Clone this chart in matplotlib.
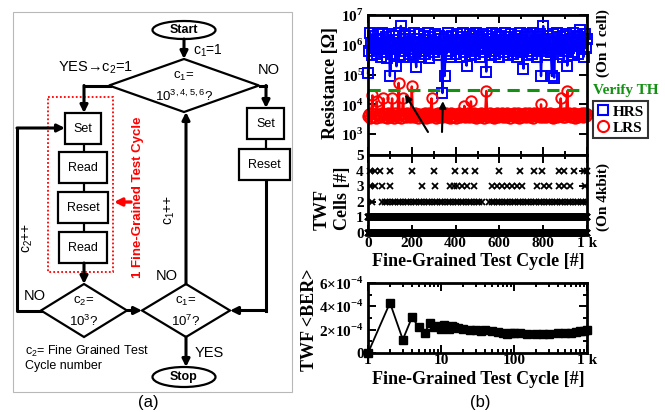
import numpy as np
import matplotlib
matplotlib.use("Agg")
import matplotlib.pyplot as plt
from matplotlib.patches import Rectangle, Ellipse, Polygon
from matplotlib.lines import Line2D
from matplotlib.ticker import MultipleLocator, LogLocator, NullFormatter

plt.rcParams['font.family'] = ['Liberation Serif', 'DejaVu Serif']
plt.rcParams['font.weight'] = 'bold'
plt.rcParams['mathtext.fontset'] = 'custom'
plt.rcParams['mathtext.rm'] = 'Liberation Serif:bold'
plt.rcParams['mathtext.bf'] = 'Liberation Serif:bold'
plt.rcParams['mathtext.sf'] = 'Liberation Sans:weight=normal'

# ---- data ----
# sampled fine-grained cycles for the single-cell resistance trace
res_cycles = np.arange(0, 1001, 5)
hrs_log = [5.05, 5.80, 6.40, 6.05, 5.65, 6.30, 5.90, 6.15, 5.70, 6.35,
           5.85, 6.20, 5.60, 6.40, 5.95, 5.75, 6.25, 5.55, 6.10, 6.35,
           4.95, 6.00, 5.70, 6.30, 5.85, 6.15, 5.28, 5.90, 6.40, 5.65,
           6.63, 5.80, 6.20, 5.60, 6.35, 5.95, 6.05, 5.70, 6.30, 5.85,
           6.10, 5.65, 6.40, 5.75, 5.25, 6.20, 5.90, 6.35, 5.60, 6.05,
           5.80, 6.30, 5.70, 6.15, 5.95, 6.40, 5.55, 6.25, 5.85, 6.10,
           5.75, 6.35, 5.90, 6.00, 5.65, 6.30, 5.85, 6.20, 4.38, 5.95,
           4.95, 6.25, 5.70, 6.40, 5.80, 6.10, 5.60, 6.30, 5.95, 6.15,
           5.70, 6.35, 5.85, 6.05, 5.60, 6.25, 5.90, 6.40, 5.75, 6.15,
           5.30, 6.20, 5.95, 6.35, 5.65, 6.10, 5.80, 6.30, 5.70, 6.40,
           5.85, 6.25, 5.60, 6.15, 5.95, 6.35, 5.75, 6.05, 5.10, 6.30,
           5.90, 6.20, 5.65, 6.40, 5.80, 6.10, 5.70, 6.35, 5.95, 6.25,
           5.60, 6.30, 5.85, 6.15, 5.75, 6.40, 5.90, 6.05, 5.65, 6.25,
           5.95, 6.35, 5.70, 6.20, 5.80, 6.10, 5.60, 6.30, 5.85, 6.40,
           5.75, 6.15, 5.20, 6.25, 5.90, 6.35, 5.65, 6.05, 5.80, 6.30,
           5.70, 6.40, 5.95, 6.10, 5.60, 6.25, 5.85, 6.35, 4.95, 6.15,
           6.63, 5.80, 6.20, 5.65, 6.30, 5.90, 6.05, 5.75, 4.95, 6.35,
           4.90, 6.10, 5.85, 6.40, 5.70, 6.25, 5.95, 6.15, 5.60, 6.30,
           5.80, 6.35, 5.30, 6.05, 5.90, 6.20, 5.65, 6.40, 5.75, 6.10,
           5.95, 6.30, 5.70, 6.25, 6.50, 5.85, 6.15, 5.60, 6.35, 5.90,
           6.20]
lrs_log = [3.60, 3.66, 3.55, 3.70, 4.30, 3.58, 3.68, 3.54, 4.10, 3.63,
           3.69, 3.56, 3.64, 3.71, 4.20, 3.59, 3.66, 3.53, 3.70, 3.61,
           3.57, 3.68, 4.20, 3.62, 3.55, 3.71, 3.64, 3.58, 4.72, 3.67,
           3.54, 3.69, 4.20, 3.60, 3.66, 3.56, 3.72, 3.62, 3.58, 3.68,
           4.60, 3.63, 3.57, 3.70, 3.60, 3.66, 3.53, 3.69, 3.61, 3.56,
           3.68, 3.59, 3.71, 3.55, 3.65, 3.62, 3.70, 3.57, 4.20, 3.64,
           3.60, 3.69, 3.54, 3.67, 3.72, 3.58, 3.63, 3.70, 3.56, 3.66,
           3.61, 3.71, 3.57, 3.64, 3.68, 3.55, 3.70, 3.62, 3.59, 3.67,
           3.53, 3.68, 3.63, 3.71, 3.58, 3.66, 3.60, 3.69, 3.95, 3.57,
           3.65, 3.70, 3.56, 3.62, 4.10, 3.67, 3.59, 3.72, 3.61, 3.55,
           3.69, 3.63, 3.58, 3.70, 3.60, 3.66, 3.54, 3.68, 4.45, 3.62,
           3.57, 3.71, 3.64, 3.59, 3.69, 3.55, 3.67, 3.62, 3.70, 3.58,
           3.66, 3.60, 3.72, 3.56, 3.64, 3.69, 3.58, 3.71, 3.61, 3.65,
           3.54, 3.68, 3.62, 3.70, 3.57, 3.66, 3.60, 3.72, 3.55, 3.64,
           3.69, 3.59, 3.65, 3.71, 3.56, 3.67, 3.61, 3.70, 3.58, 3.63,
           3.68, 3.55, 3.72, 3.60, 3.66, 3.62, 3.69, 3.57, 4.00, 3.64,
           3.59, 3.70, 3.63, 3.56, 3.68, 3.61, 3.71, 3.58, 3.66, 3.54,
           3.69, 3.62, 3.67, 3.57, 3.72, 3.60, 4.20, 3.65, 3.59, 3.70,
           3.56, 3.68, 4.45, 3.63, 3.70, 3.58, 3.66, 3.61, 3.71, 3.55,
           3.64, 3.69, 3.59, 3.67, 3.62, 3.72, 3.57, 3.65, 3.70, 3.60,
           3.66]
verify_th = 3e4

# TWF cell counts on the 4 kbit array
all_cycles = np.arange(1, 1001)
twf4_cycles = [11, 33, 56, 102, 201, 300, 399, 444, 490, 597, 696, 756,
               795, 871, 893, 939, 985, 1000]
twf3_cycles = [11, 33, 64, 102, 247, 307, 376, 391, 406, 429, 452, 482,
               566, 589, 612, 635, 658, 680, 703, 772, 802, 825, 871,
               893, 924, 992]
twf2_cycles = [18, 64, 76, 88, 100, 112, 124, 136, 148, 160, 172, 184,
               196, 208, 220, 232, 244, 256, 268, 280, 292, 304, 316,
               328, 340, 352, 364, 376, 388, 400, 412, 424, 436, 448,
               460, 472, 484, 496, 508, 520, 552, 564, 576, 588, 600,
               612, 624, 636, 648, 660, 672, 684, 696, 708, 720, 732,
               744, 756, 768, 780, 792, 804, 816, 828, 840, 852, 864,
               876, 888, 900, 912, 924, 936, 948, 960, 972, 984, 996]

# averaged bit error rate of TWF
ber_cycles = [1, 2, 3, 4, 5, 6, 7, 8, 9, 10, 11, 12, 13, 14, 15, 17, 20,
              25, 30, 35, 40, 50, 60, 70, 80, 90, 100, 120, 150, 200,
              250, 300, 400, 500, 600, 700, 800, 900, 1000]
ber = [0.0, 4.3e-4, 1.15e-4, 3.05e-4, 2.2e-4, 1.75e-4, 2.55e-4, 2.2e-4,
       2.3e-4, 2.1e-4, 2.4e-4, 2.2e-4, 2.1e-4, 2.3e-4, 2.2e-4, 2.15e-4,
       2.1e-4, 2.0e-4, 1.95e-4, 1.9e-4, 1.95e-4, 1.85e-4, 1.8e-4,
       1.75e-4, 1.65e-4, 1.7e-4, 1.7e-4, 1.68e-4, 1.65e-4, 1.65e-4,
       1.62e-4, 1.62e-4, 1.68e-4, 1.72e-4, 1.75e-4, 1.8e-4, 1.85e-4,
       1.9e-4, 1.95e-4]

W, H = 665, 412
fig = plt.figure(figsize=(W / 100, H / 100), dpi=100)

# overlay in pixel coordinates for the flowchart and free labels
ax0 = fig.add_axes([0, 0, 1, 1])
ax0.set_xlim(0, W)
ax0.set_ylim(H, 0)
ax0.axis('off')

SANS = ['Liberation Sans', 'DejaVu Sans']
LW = 2.2


def seg(xs, ys, lw=LW):
    ax0.plot(xs, ys, color='k', lw=lw, solid_capstyle='projecting')


def arrow(x0, y0, x1, y1, color='k', lw=LW):
    ax0.annotate('', xy=(x1, y1), xytext=(x0, y0),
                 arrowprops=dict(arrowstyle='-|>', color=color, lw=lw,
                                 mutation_scale=11, shrinkA=0, shrinkB=0))


def box(x0, y0, x1, y1, label):
    ax0.add_patch(Rectangle((x0, y0), x1 - x0, y1 - y0, fc='white',
                            ec='k', lw=1.6, zorder=3))
    ax0.text((x0 + x1) / 2, (y0 + y1) / 2, label, ha='center', va='center',
             family=SANS, weight='normal', fontsize=9, zorder=4)


def diamond(cx, cy, hw, hh, l1, l2):
    ax0.add_patch(Polygon([(cx, cy - hh), (cx + hw, cy), (cx, cy + hh),
                           (cx - hw, cy)], closed=True, fc='white', ec='k',
                          lw=1.6, zorder=3))
    ax0.text(cx, cy - 9, l1, ha='center', va='center', family=SANS,
             weight='normal', fontsize=9.5, zorder=4)
    ax0.text(cx, cy + 11, l2, ha='center', va='center', family=SANS,
             weight='normal', fontsize=9.5, zorder=4)


def txt(x, y, s, size=10.5, **kw):
    kw.setdefault('ha', 'center')
    kw.setdefault('va', 'center')
    kw.setdefault('weight', 'normal')
    ax0.text(x, y, s, family=SANS, fontsize=size, **kw)


# panel (a) frame
ax0.add_patch(Rectangle((13, 12), 279, 380, fill=False, ec='#b8b8b8', lw=0.8))

ax0.add_patch(Ellipse((184, 30), 63, 18, fc='white', ec='k', lw=1.6, zorder=3))
txt(184, 30, 'Start', 9, weight='bold')
arrow(184, 39, 184, 59)
txt(193, 51, r'$\mathsf{c_1}$=1', 10, ha='left')

diamond(184, 85.5, 75, 26.5, r'$\mathsf{c_1}$=', r'10$^{\mathsf{3,4,5,6}}$?')
txt(58, 68, r'YES→$\mathsf{c_2}$=1', 10.5, ha='left')
txt(269, 70, 'NO', 10.5)

seg([110, 84], [85.5, 85.5])
arrow(84, 85.5, 84, 113)
box(65, 113, 101, 144, 'Set')
seg([84, 84], [144, 152], lw=1.6)
box(59, 152, 107, 183, 'Read')
seg([84, 84], [183, 192], lw=1.6)
box(58, 192, 108, 223, 'Reset')
seg([84, 84], [223, 232], lw=1.6)
box(59, 232, 107, 263, 'Read')
arrow(84, 263, 84, 284)
ax0.add_patch(Rectangle((48, 97), 65, 175, fill=False, ec='red', lw=1.3,
                        ls=(0, (1, 1.2))))
txt(138, 197, '1 Fine-Grained Test Cycle', 9.5, weight='bold', color='red',
    rotation=90)
arrow(131, 202, 114, 202, color='red', lw=2.4)

diamond(84, 310.5, 43, 26.5, r'$\mathsf{c_2}$=', r'10$^{\mathsf{3}}$?')
txt(35, 296, 'NO', 10.5)
seg([41, 17, 17], [310.5, 310.5, 128])
arrow(17, 128, 65, 128)
txt(28, 238, r'$\mathsf{c_2}$++', 10, rotation=90)
arrow(127, 310.5, 142, 310.5)

diamond(186, 310.5, 44, 26.5, r'$\mathsf{c_1}$=', r'10$^{\mathsf{7}}$?')
txt(167, 276, 'NO', 10.5)
arrow(186, 284, 186, 112)
txt(170, 210, r'$\mathsf{c_1}$++', 10, rotation=90)

seg([260, 266], [85.5, 85.5])
arrow(266, 85.5, 266, 108)
box(247, 108, 284, 139, 'Set')
seg([266, 266], [139, 149], lw=1.6)
box(239, 149, 290, 180, 'Reset')
seg([266, 266], [180, 310.5])
arrow(266, 310.5, 230, 310.5)

arrow(186, 337, 186, 367)
txt(195, 353, 'YES', 10.5, ha='left')
ax0.add_patch(Ellipse((184, 377), 63, 20, fc='white', ec='k', lw=1.6, zorder=3))
txt(184, 377, 'Stop', 9, weight='bold')

txt(25, 351, r'$\mathsf{c_2}$= Fine Grained Test', 9, ha='left')
txt(25, 366, 'Cycle number', 9, ha='left')
txt(148, 403, '(a)', 12)
txt(480, 403, '(b)', 12)

# ---- panel (b) ----
def style(ax):
    for s in ax.spines.values():
        s.set_linewidth(2)
    ax.tick_params(which='both', direction='in', top=True, right=True,
                   width=1.4, labelsize=11, pad=3)
    ax.tick_params(which='major', length=6)
    ax.tick_params(which='minor', length=3)


ax1 = fig.add_axes([368 / W, 1 - 155 / H, 219 / W, 140 / H])
ax1.semilogy(res_cycles, 10 ** np.array(hrs_log), '-s', color='blue',
             mfc='none', ms=7, mew=1.4, lw=1.7, clip_on=False)
ax1.semilogy(res_cycles, 10 ** np.array(lrs_log), '-o', color='red',
             mfc='none', ms=7.5, mew=1.4, lw=1.7, clip_on=False)
ax1.axhline(verify_th, color='#129112', ls=(0, (4, 2.5)), lw=2.2)
ax1.set_xlim(0, 1000)
ax1.set_ylim(10 ** 2.3, 1e7)
ax1.set_yticks([1e3, 1e4, 1e5, 1e6, 1e7])
ax1.set_yticklabels([r'$10^{%d}$' % k for k in range(3, 8)])
ax1.yaxis.set_minor_locator(LogLocator(base=10, subs=np.arange(2, 10)))
ax1.yaxis.set_minor_formatter(NullFormatter())
ax1.xaxis.set_major_locator(MultipleLocator(200))
ax1.xaxis.set_minor_locator(MultipleLocator(100))
ax1.tick_params(labelbottom=False)
style(ax1)

ax1.annotate('', xy=(169, 10 ** 4.34), xytext=(428, 132),
             textcoords=ax0.transData,
             arrowprops=dict(arrowstyle='-|>', color='k', lw=1.5,
                             mutation_scale=10, shrinkA=0, shrinkB=0))
ax1.annotate('', xy=(342, 10 ** 4.11), xytext=(442, 132),
             textcoords=ax0.transData,
             arrowprops=dict(arrowstyle='-|>', color='k', lw=1.5,
                             mutation_scale=10, shrinkA=0, shrinkB=0))
ax0.text(433, 140, 'TWF', fontsize=12, ha='center', va='center')
ax0.text(593, 90, 'Verify TH', fontsize=11, color='#129112', ha='left',
         va='center')

handles = [Line2D([], [], marker='s', ls='none', mfc='none', mec='blue',
                  ms=7, mew=1.5),
           Line2D([], [], marker='o', ls='none', mfc='none', mec='red',
                  ms=8, mew=1.5)]
leg = ax1.legend(handles, ['HRS', 'LRS'], loc='upper left',
                 bbox_to_anchor=(593 / W, 1 - 101 / H),
                 bbox_transform=fig.transFigure, fontsize=11,
                 frameon=True, fancybox=False, handlelength=0.8,
                 handletextpad=0.25, borderpad=0.25, labelspacing=0.15,
                 borderaxespad=0)
leg.get_frame().set_edgecolor('k')
leg.get_frame().set_linewidth(1.5)

ax2 = fig.add_axes([368 / W, 1 - 233 / H, 219 / W, 78 / H])
ax2.plot(all_cycles, [0] * len(all_cycles), 'x', color='k', ms=5, mew=1.3,
         clip_on=False)
ax2.plot(all_cycles, [1] * len(all_cycles), 'x', color='k', ms=5, mew=1.3,
         clip_on=False)
ax2.plot(twf2_cycles, [2] * len(twf2_cycles), 'x', color='k', ms=5, mew=1.3)
ax2.plot(twf3_cycles, [3] * len(twf3_cycles), 'x', color='k', ms=5, mew=1.3)
ax2.plot(twf4_cycles, [4] * len(twf4_cycles), 'x', color='k', ms=5, mew=1.3,
         clip_on=False)
ax2.set_xlim(0, 1000)
ax2.set_ylim(0, 5)
ax2.set_yticks(range(6))
ax2.xaxis.set_minor_locator(MultipleLocator(100))
ax2.set_xticks([0, 200, 400, 600, 800, 1000])
ax2.set_xticklabels(['0', '200', '400', '600', '800', '1 k'])
style(ax2)

ax3 = fig.add_axes([368 / W, 1 - 353 / H, 219 / W, 70 / H])
ax3.semilogx(ber_cycles, ber, '-s', color='k', ms=6, lw=1.3, clip_on=False)
ax3.set_xlim(1, 1000)
ax3.set_ylim(0, 6e-4)
ax3.set_xticks([1, 10, 100, 1000])
ax3.set_xticklabels(['1', '10', '100', '1 k'])
ax3.xaxis.set_minor_locator(LogLocator(base=10, subs=np.arange(2, 10)))
ax3.xaxis.set_minor_formatter(NullFormatter())
ax3.set_yticks([0, 2e-4, 4e-4, 6e-4])
ax3.set_yticklabels(['0', r'$2{\times}10^{-4}$', r'$4{\times}10^{-4}$',
                     r'$6{\times}10^{-4}$'])
ax3.yaxis.set_minor_locator(MultipleLocator(1e-4))
style(ax3)
ax3.tick_params(axis='x', pad=1)

# axis titles
ax0.text(330, 83, 'Resistance [Ω]', fontsize=13, rotation=90,
         ha='center', va='center')
ax0.text(322, 230, 'TWF', fontsize=13, rotation=90, ha='center', va='bottom')
ax0.text(343, 230, 'Cells [#]', fontsize=13, rotation=90, ha='center',
         va='bottom')
ax0.text(309, 320, 'TWF <BER>', fontsize=13, rotation=90, ha='center',
         va='center')
ax0.text(478, 262, 'Fine-Grained Test Cycle [#]', fontsize=13, ha='center',
         va='center')
ax0.text(478, 379, 'Fine-Grained Test Cycle [#]', fontsize=13, ha='center',
         va='center')
ax0.text(603, 43, '(On 1 cell)', fontsize=11, rotation=90, ha='center',
         va='center')
ax0.text(603, 197, '(On 4kbit)', fontsize=11, rotation=90, ha='center',
         va='center')

fig.savefig('out.png', dpi=100)
